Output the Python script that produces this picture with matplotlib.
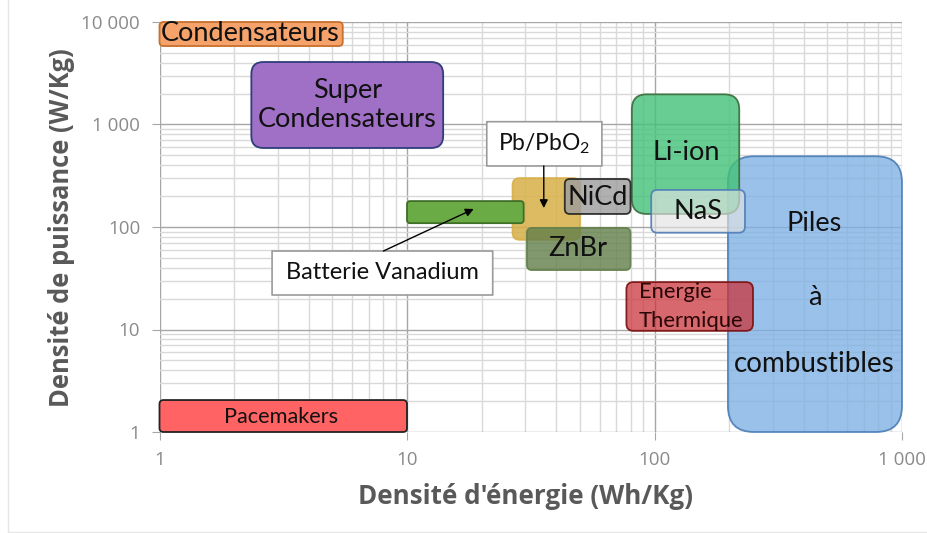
import numpy as np
import matplotlib
matplotlib.use('Agg')
import matplotlib.pyplot as plt
from matplotlib.patches import FancyBboxPatch
from matplotlib.transforms import IdentityTransform
from matplotlib.ticker import FixedLocator, LogLocator, NullFormatter
from matplotlib.colors import to_rgba

plt.rcParams['mathtext.fontset'] = 'custom'
plt.rcParams['mathtext.rm'] = 'Lato'
plt.rcParams['mathtext.it'] = 'Lato:italic'

# Ragone chart: energy density (Wh/kg) vs power density (W/kg)
techs = ['Piles', 'Li-ion', 'NaS', 'Thermique', 'Pb', 'NiCd', 'ZnBr',
         'Vanadium', 'Condensateurs', 'Super', 'Pacemakers']
e_min = [198, 81, 97, 77, 26.7, 43.4, 30.5, 10, 1, 2.35, 1]
e_max = [1000, 220, 232, 250, 50, 80, 80, 29.6, 5.5, 14, 10]
p_min = [1, 134, 88, 9.7, 75, 134, 38, 109, 5830, 590, 1]
p_max = [490, 1970, 230, 29, 300, 294, 98, 179, 10000, 4070, 2.05]

xticks = [1, 10, 100, 1000]
xlabels = ['1', '10', '100', '1 000']
yticks = [1, 10, 100, 1000, 10000]
ylabels = ['1', '10', '100', '1 000', '10 000']

# look of each box: face, edge, alpha, corner radius (px), zorder
style = {
    'Piles': ('#7EB0E3', '#4A7DB4', 0.78, 26, 2),
    'Li-ion': ('#45C27A', '#3B6B3B', 0.82, 15, 3),
    'NaS': ('#E3E3E3', '#4F7DB5', 0.65, 6, 4),
    'Thermique': ('#C9353D', '#7A1010', 0.75, 7, 4),
    'Pb': ('#D8B048', '#D8B048', 0.85, 7, 2),
    'NiCd': ('#9C9C9C', '#202020', 0.8, 5, 3),
    'ZnBr': ('#627F4A', '#627F4A', 0.8, 5, 3),
    'Vanadium': ('#6AAB45', '#3E6E27', 1.0, 3, 4),
    'Condensateurs': ('#F5A36B', '#C8702E', 1.0, 4, 2),
    'Super': ('#A070C6', '#2F3D7A', 1.0, 12, 2),
    'Pacemakers': ('#FF6363', '#222222', 1.0, 4, 2),
}

# label texts and their positions (data coordinates)
labels = [
    ('Condensateurs', 2.32, 7640, 19.5),
    ('Super\nCondensateurs', 5.74, 1550, 19.5),
    ('NiCd', 59, 196, 19.5),
    ('ZnBr', 49, 62, 19.5),
    ('Li-ion', 134, 539, 19.5),
    ('NaS', 150, 143, 19.5),
    ('Piles', 443, 107, 19.5),
    ('à', 443, 20.7, 19.5),
    ('combustibles', 443, 4.6, 20),
    ('Pacemakers', 3.1, 1.4, 15.7),
]

fig = plt.figure(figsize=(9.27, 5.33), dpi=100)
ax = fig.add_axes([159.5/927, 101/533, (902-159.5)/927, (432-22)/533])
ax.set_xscale('log')
ax.set_yscale('log')
ax.set_xlim(1, 1000)
ax.set_ylim(1, 10000)

ax.xaxis.set_major_locator(FixedLocator(xticks))
ax.yaxis.set_major_locator(FixedLocator(yticks))
ax.set_xticklabels(xlabels)
ax.set_yticklabels(ylabels)
ax.xaxis.set_minor_locator(LogLocator(base=10, subs=np.arange(2, 10)))
ax.yaxis.set_minor_locator(LogLocator(base=10, subs=np.arange(2, 10)))
ax.xaxis.set_minor_formatter(NullFormatter())
ax.yaxis.set_minor_formatter(NullFormatter())
ax.grid(True, which='major', color='#A6A6A6', lw=1.0)
ax.grid(True, which='minor', color='#D9D9D9', lw=1.0)
ax.set_axisbelow(True)
for s in ax.spines.values():
    s.set_visible(False)
ax.tick_params(which='major', length=6, color='#A6A6A6', labelcolor='#8A8A8A',
               labelsize=13.5, pad=8)
ax.tick_params(which='minor', length=0)
for t in ax.get_xticklabels() + ax.get_yticklabels():
    t.set_family('Open Sans')

ax.set_xlabel("Densité d'énergie (Wh/Kg)", family='Open Sans', weight='bold',
              fontsize=18.7, color='#595959')
ax.set_ylabel('Densité de puissance (W/Kg)', family='Open Sans', weight='bold',
              fontsize=18.4, color='#595959')
ax.xaxis.set_label_coords(0.4936, -0.125)
ax.yaxis.set_label_coords(-0.114, 0.499)

fig.canvas.draw()
tr = ax.transData


def px_box(x0, x1, y0, y1, fc, ec, alpha, r, z, lw=1.3):
    (a, b) = tr.transform((x0, y0))
    (c, d) = tr.transform((x1, y1))
    p = FancyBboxPatch((a, b), c - a, d - b,
                       boxstyle='round,pad=0,rounding_size=%g' % r,
                       transform=IdentityTransform(), lw=lw, zorder=z,
                       fc=to_rgba(fc, alpha), ec=to_rgba(ec, max(alpha, 0.9)))
    ax.add_patch(p)
    p.set_clip_on(False)


for i, name in enumerate(techs):
    fc, ec, al, r, z = style[name]
    px_box(e_min[i], e_max[i], p_min[i], p_max[i], fc, ec, al, r, z)

font = 'Lato'
for txt, x, y, fs in labels:
    ax.text(x, y, txt, ha='center', va='center', fontsize=fs, family=font,
            color='#111111', zorder=10, linespacing=1.2)
ax.text(86.5, 23.2, 'Energie', ha='left', va='center', fontsize=15.8,
        family=font, color='#2A0505', zorder=10)
ax.text(86.5, 12.1, 'Thermique', ha='left', va='center', fontsize=15.8,
        family=font, color='#2A0505', zorder=10)

# callout boxes with arrows
px_box(21, 61.3, 394, 1065, 'white', '#9A9A9A', 1.0, 0.1, 8, lw=1.2)
ax.text(35.7, 645, 'Pb/PbO$_2$', ha='center', va='center', fontsize=16.5,
        family=font, color='#111111', zorder=10)
ax.annotate('', xy=(35.7, 153), xytext=(35.7, 394),
            arrowprops=dict(arrowstyle='-|>', color='black', lw=1,
                            mutation_scale=12, shrinkA=0, shrinkB=0), zorder=9)

px_box(2.85, 22.2, 21.7, 58.3, 'white', '#9A9A9A', 1.0, 0.1, 8, lw=1.2)
ax.text(7.95, 35.6, 'Batterie Vanadium', ha='center', va='center',
        fontsize=17, family=font, color='#111111', zorder=10)
ax.annotate('', xy=(18.6, 150), xytext=(8.03, 58.3),
            arrowprops=dict(arrowstyle='-|>', color='black', lw=1,
                            mutation_scale=12, shrinkA=0, shrinkB=0), zorder=9)

# faint outline of the picture frame
fig.add_artist(plt.Line2D([8/927, 8/927], [1.5/533, 1], color='#E6E6E6', lw=1,
                          transform=fig.transFigure))
fig.add_artist(plt.Line2D([8/927, 1], [1.5/533, 1.5/533], color='#E6E6E6', lw=1,
                          transform=fig.transFigure))

fig.savefig('out.png', dpi=100)
